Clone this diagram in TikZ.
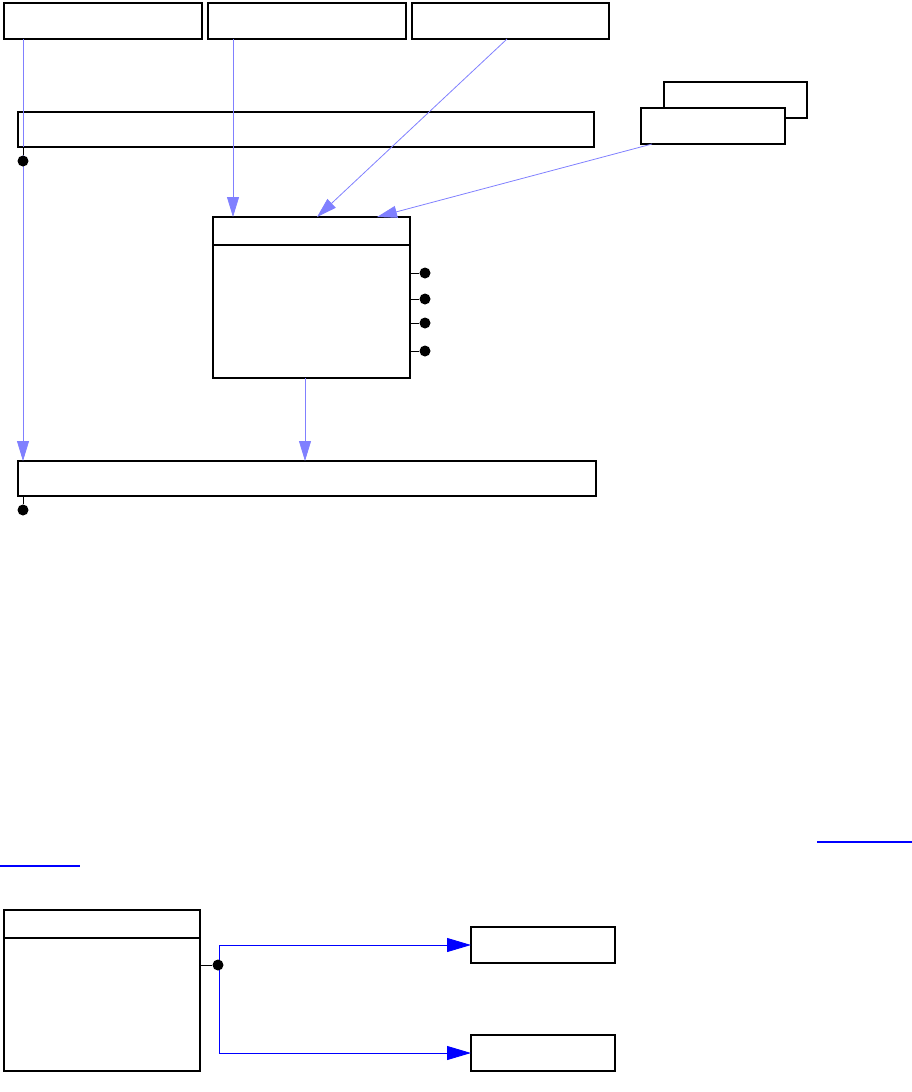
\documentclass[tikz,border=0pt]{standalone}
\usetikzlibrary{arrows.meta}
\definecolor{lightblue}{RGB}{128,128,255}
\definecolor{linkblue}{RGB}{0,0,255}
\begin{document}
\begin{tikzpicture}[x=1pt,y=-1pt,
  box/.style={draw=black,line width=1.2pt,fill=white,inner sep=0pt,outer sep=0pt,anchor=north west},
  la/.style={draw=lightblue,line width=0.8pt,-{Triangle[width=12pt,length=20pt]}},
  lb/.style={draw=linkblue,line width=0.9pt,-{Triangle[width=14pt,length=24pt]}},
  dot/.style={circle,fill=black,inner sep=0pt,minimum size=11pt},
  stub/.style={draw=black,line width=0.9pt},
  divider/.style={draw=black,line width=2.2pt},
  ulink/.style={draw=linkblue,line width=1.2pt}]
\useasboundingbox (0,0) rectangle (912,1092);
% top row
\node[box,minimum width=198pt,minimum height=36pt] (b1) at (4,3) {};
\node[box,minimum width=198pt,minimum height=36pt] (b2) at (208,3) {};
\node[box,minimum width=197pt,minimum height=36pt] (b3) at (412,3) {};
% stacked boxes
\node[box,minimum width=143pt,minimum height=36pt] (bk) at (664,82) {};
\node[box,minimum width=144pt,minimum height=36pt] (fr) at (641,108) {};
% wide boxes
\node[box,minimum width=576pt,minimum height=35pt] (bA) at (18,112) {};
\node[box,minimum width=578pt,minimum height=35pt] (bB) at (18,461) {};
% class box
\node[box,minimum width=197pt,minimum height=161pt] (cls) at (213,217) {};
\draw[divider] ([yshift=-28pt]cls.north west) -- ([yshift=-28pt]cls.north east);
% connectors (light blue)
\draw[la] ([xshift=19pt]b1.south west) -- ([xshift=5pt]bB.north west);
\draw[la] ([xshift=25pt]b2.south west) -- ([xshift=20pt]cls.north west);
\draw[la] ([xshift=95pt]b3.south west) -- ([xshift=104pt]cls.north west);
\draw[la] ([xshift=11pt]fr.south west) -- ([xshift=164pt]cls.north west);
\draw[la] ([xshift=92pt]cls.south west) -- ([xshift=287pt]bB.north west);
% dots
\node[dot] (dA) at (23,161) {};
\draw[stub] (dA) -- (dA |- bA.south);
\node[dot] (dB) at (23,510) {};
\draw[stub] (dB) -- (dB |- bB.south);
\foreach \yy/\nm in {273/c1,299/c2,323/c3,351/c4}{
  \node[dot] (\nm) at (425,\yy) {};
  \draw[stub] (\nm) -- (\nm -| cls.east);
}
% hyperlink underlines
\coordinate (u1a) at (817,842); \coordinate (u1b) at (912,842);
\coordinate (u2a) at (0,866); \coordinate (u2b) at (80,866);
\draw[ulink] (u1a) -- (u1b);
\draw[ulink] (u2a) -- (u2b);
% bottom part
\node[box,minimum width=196pt,minimum height=161pt] (cls2) at (4,910) {};
\draw[divider] ([yshift=-28pt]cls2.north west) -- ([yshift=-28pt]cls2.north east);
\node[box,minimum width=144pt,minimum height=36pt] (bC) at (471,927) {};
\node[box,minimum width=144pt,minimum height=36pt] (bD) at (471,1035) {};
\coordinate (dp) at (219,965);
\draw[lb] (dp) |- (bC.west);
\draw[lb] (dp) |- (bD.west);
\node[dot] (dC) at (218,965) {};
\draw[stub] (dC) -- (dC -| cls2.east);
\end{tikzpicture}
\end{document}
